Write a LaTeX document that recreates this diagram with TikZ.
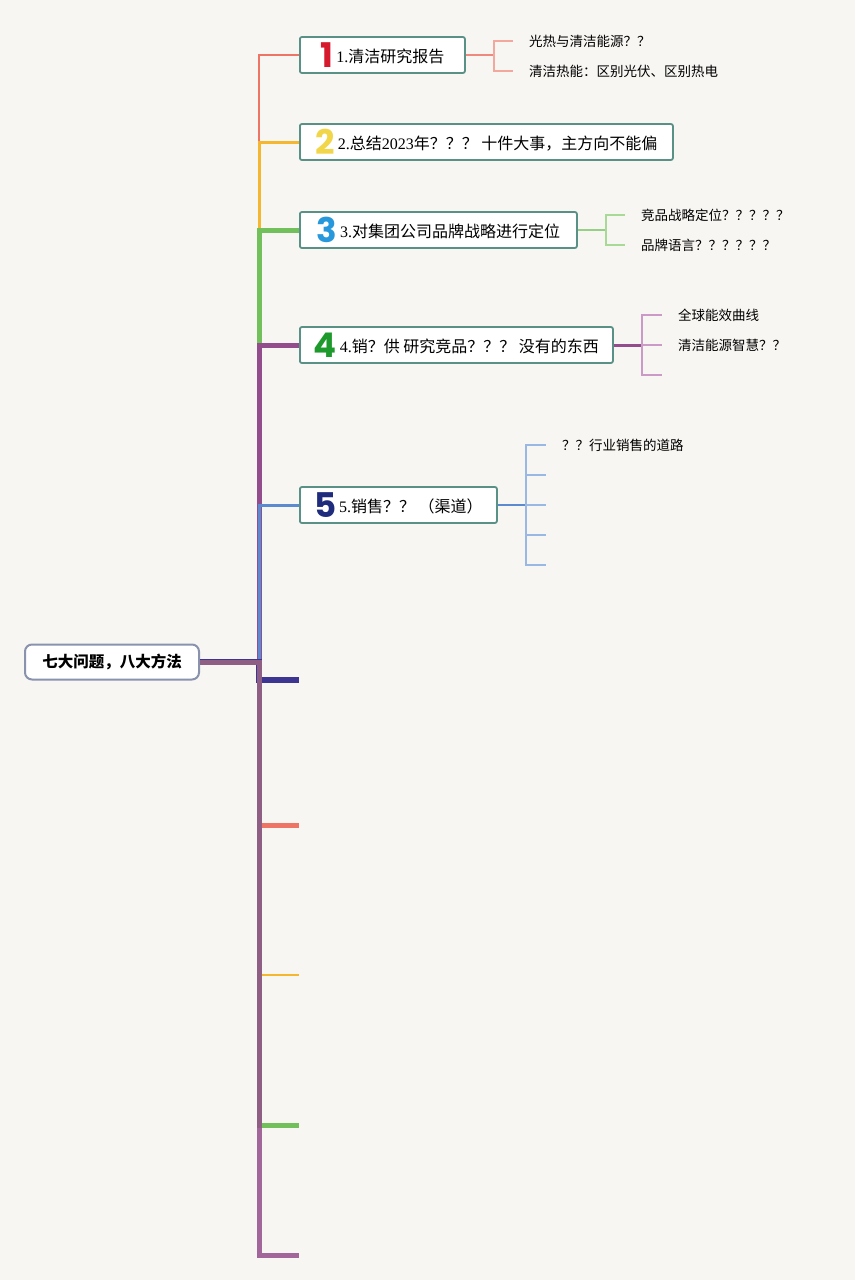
\documentclass[tikz,border=0pt]{standalone}
\usepackage{fontspec}
\setmainfont{Liberation Serif}
\newfontfamily\zh{Noto Sans CJK SC}
\newfontfamily\numfont{Poppins}
\usepackage{xcolor}
\usetikzlibrary{positioning}

\definecolor{paper}{HTML}{F8F6F3}
\definecolor{topicedge}{HTML}{5A9186}
\definecolor{rootedge}{HTML}{8A93AD}
\definecolor{cred}{HTML}{EE7466}
\definecolor{corange}{HTML}{F5B730}
\definecolor{cgreen}{HTML}{72C05B}
\definecolor{cpurple}{HTML}{934D8C}
\definecolor{cblue}{HTML}{5B8AD0}
\definecolor{cindigo}{HTML}{3C3591}
\definecolor{lred}{HTML}{F3A89E}
\definecolor{lgreen}{HTML}{A8D996}
\definecolor{lpurple}{HTML}{CC9AC6}
\definecolor{lblue}{HTML}{9AB8E4}
\definecolor{numa}{HTML}{D6192C}
\definecolor{numb}{HTML}{F2D64A}
\definecolor{numc}{HTML}{2898DC}
\definecolor{numd}{HTML}{1E9A2C}
\definecolor{nume}{HTML}{1F2B7C}

\newcommand{\bignum}[2]{\raisebox{-5pt}{\numfont\bfseries\fontsize{34}{34}\selectfont\color{#1}#2}\hspace{3pt}}

\begin{document}
\begin{tikzpicture}[
    x=1pt, y=-1pt,
    topic/.style={rectangle, draw=topicedge, line width=1.8pt, fill=white, rounded corners=2pt, minimum height=36pt, inner sep=0pt, anchor=west, font=\fontsize{16}{18}\selectfont},
    rootnode/.style={rectangle, draw=rootedge, line width=2pt, fill=white, rounded corners=7pt, minimum width=174pt, minimum height=35pt, font=\zh\bfseries\fontsize{15.5}{18}\selectfont},
    leaf/.style={anchor=west, inner xsep=16pt, inner ysep=2pt, font=\zh\fontsize{13.5}{15}\selectfont},
    fork/.style={line width=2pt}
]
    \fill[paper] (0,0) rectangle (855,1280);
    \useasboundingbox (0,0) rectangle (855,1280);

    % root and topics
    \node[rootnode] (root) at (112,662) {七大问题，八大方法};
    \coordinate (trunk) at (259,662);
    \node[topic, minimum width=165pt] (t1) at (299,55) {\bignum{numa}{1}1.{\zh 清洁研究报告}};
    \node[topic, minimum width=373pt] (t2) at (299,142) {\bignum{numb}{2}2.{\zh 总结}2023{\zh 年？？？ 十件大事，主方向不能偏}};
    \node[topic, minimum width=277pt] (t3) at (299,230) {\bignum{numc}{3}3.{\zh 对集团公司品牌战略进行定位}};
    \node[topic, minimum width=313pt] (t4) at (299,345) {\bignum{numd}{4}4.{\zh 销？供 研究竞品？？？ 没有的东西}};
    \node[topic, minimum width=197pt] (t5) at (299,505) {\bignum{nume}{5}5.{\zh 销售？？ （渠道）}};

    % branches without topic text
    \coordinate (b6) at (299,680);
    \coordinate (b7) at (299,825);
    \coordinate (b8) at (299,975);
    \coordinate (b9) at (299,1125);
    \coordinate (b10) at (299,1255);

    \draw[cred, line width=2pt] (root.east) -- (trunk) |- (t1.west);
    \draw[corange, line width=3pt] (root.east) -- (trunk) |- (t2.west);
    \draw[cgreen, line width=5pt] (root.east) -- (trunk) |- (t3.west);
    \draw[cpurple, line width=5pt] (root.east) -- (trunk) |- (t4.west);
    \draw[cblue, line width=3pt] (root.east) -- (trunk) |- (t5.west);
    \draw[cindigo, line width=6pt] (root.east) -- (trunk) |- (b6);
    \draw[cred, line width=5pt] (root.east) -- (trunk) |- (b7);
    \draw[corange, line width=2pt] (root.east) -- (trunk) |- (b8);
    \draw[cgreen, line width=5pt] (root.east) -- (trunk) |- (b9);
    \draw[cpurple, line width=5pt, opacity=0.85] (root.east) -- (trunk) |- (b10);

    % leaves of topic 1
    \node[leaf] (l11) at (513,41) {光热与清洁能源？？};
    \node[leaf] (l12) at (513,71) {清洁热能：区别光伏、区别热电};
    \coordinate (f1) at (494,55);
    \draw[cred!85, fork] (t1.east) -- (f1);
    \draw[lred, fork] (f1) |- (l11.west);
    \draw[lred, fork] (f1) |- (l12.west);

    % leaves of topic 3
    \node[leaf] (l31) at (625,215) {竞品战略定位？？？？？};
    \node[leaf] (l32) at (625,245) {品牌语言？？？？？？};
    \coordinate (f3) at (606,230);
    \draw[cgreen!75, fork] (t3.east) -- (f3);
    \draw[lgreen, fork] (f3) |- (l31.west);
    \draw[lgreen, fork] (f3) |- (l32.west);

    % leaves of topic 4
    \node[leaf] (l41) at (662,315) {全球能效曲线};
    \node[leaf] (l42) at (662,345) {清洁能源智慧？？};
    \coordinate (l43) at (662,375);
    \coordinate (f4) at (642,345);
    \draw[cpurple, line width=3pt] (t4.east) -- (f4);
    \draw[lpurple, fork] (f4) |- (l41.west);
    \draw[lpurple, fork] (f4) -- (l42.west);
    \draw[lpurple, fork] (f4) |- (l43);

    % leaves of topic 5
    \node[leaf] (l51) at (546,445) {？？行业销售的道路};
    \coordinate (l52) at (546,475);
    \coordinate (l53) at (546,505);
    \coordinate (l54) at (546,535);
    \coordinate (l55) at (546,565);
    \coordinate (f5) at (526,505);
    \draw[cblue, line width=2.5pt] (t5.east) -- (f5);
    \draw[lblue, fork] (f5) |- (l51.west);
    \draw[lblue, fork] (f5) |- (l52);
    \draw[lblue, fork] (f5) -- (l53);
    \draw[lblue, fork] (f5) |- (l54);
    \draw[lblue, fork] (f5) |- (l55);
\end{tikzpicture}
\end{document}
